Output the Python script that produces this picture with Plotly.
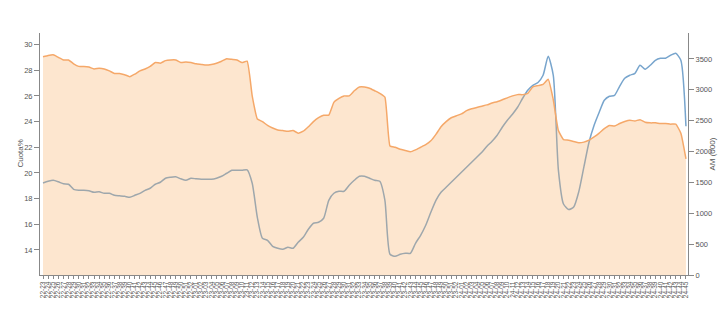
import plotly.graph_objects as go

labels = ("22-23 22-24 22-25 22-26 22-27 22-28 22-29 22-30 22-31 22-32 22-33 22-34 22-35 22-36 22-37 22-38 "
          "22-39 22-40 22-41 22-42 22-43 22-44 22-45 22-46 22-47 22-48 22-49 22-50 22-51 22-52 "
          "23-01 23-02 23-03 23-04 23-05 23-06 23-07 23-08 23-09 23-10 23-11 23-12 23-13 23-14 23-15 23-16 "
          "23-17 23-18 23-19 23-20 23-21 23-22 23-23 23-24 23-25 23-26 23-27 23-28 23-29 23-30 23-31 23-32 "
          "23-33 23-34 23-35 23-36 23-37 23-38 23-39 23-40 23-41 23-42 23-43 23-44 23-45 23-46 23-47 23-48 "
          "23-49 23-50 23-51 23-52 24-01 24-02 24-03 24-04 24-05 24-06 24-07 24-08 24-09 24-10 24-11 24-12 "
          "24-13 24-14 24-15 24-16 24-17 24-18 24-19 24-20 24-21 24-22 24-23 24-24 24-25 24-26 24-27 24-28 "
          "24-29 24-30 24-31 24-32 24-33 24-34 24-35 24-36 24-37 24-38 24-39 24-40 24-41 24-42 24-43 24-44 24-45").split()

cuota = [29.05, 29.15, 29.2, 29.0, 28.8, 28.8, 28.5, 28.3, 28.3, 28.25,
         28.1, 28.15, 28.1, 27.95, 27.75, 27.75, 27.65, 27.5, 27.7, 27.95,
         28.1, 28.3, 28.6, 28.55, 28.75, 28.8, 28.8, 28.6, 28.65, 28.6,
         28.5, 28.45, 28.4, 28.45, 28.55, 28.7, 28.9, 28.85, 28.8, 28.6,
         28.7, 26.0, 24.2, 24.0, 23.7, 23.5, 23.35, 23.3, 23.25, 23.3,
         23.1, 23.25, 23.6, 24.0, 24.3, 24.5, 24.5, 25.5, 25.8, 26.0,
         26.0, 26.4, 26.7, 26.7, 26.6, 26.4, 26.2, 25.9, 22.1, 22.0,
         21.85, 21.75, 21.65, 21.8, 22.0, 22.2, 22.5, 23.0, 23.6, 24.0,
         24.3, 24.45, 24.6, 24.85, 25.0, 25.1, 25.2, 25.3, 25.45, 25.55,
         25.7, 25.85, 26.0, 26.1, 26.1, 26.2, 26.7, 26.8, 26.9, 27.3,
         25.7, 23.3, 22.6, 22.55, 22.45, 22.35, 22.4, 22.55, 22.8, 23.1,
         23.45, 23.7, 23.65, 23.85, 24.0, 24.1, 24.05, 24.15, 23.95, 23.9,
         23.9, 23.85, 23.85, 23.8, 23.8, 23.1, 21.1]

am = [1490, 1518, 1534, 1510, 1477, 1470, 1388, 1372, 1372, 1364,
      1340, 1348, 1323, 1323, 1291, 1283, 1275, 1259, 1291, 1323,
      1372, 1405, 1470, 1502, 1567, 1583, 1591, 1558, 1534, 1567,
      1558, 1550, 1550, 1550, 1567, 1599, 1648, 1696, 1696, 1696,
      1704, 1486, 935, 595, 562, 465, 433, 416, 449, 433,
      530, 611, 741, 838, 854, 919, 1210, 1324, 1356, 1356,
      1453, 1534, 1599, 1599, 1567, 1534, 1518, 1210, 335, 303,
      335, 352, 352, 514, 643, 805, 1016, 1210, 1340, 1421,
      1502, 1583, 1664, 1745, 1826, 1907, 1988, 2085, 2166, 2263,
      2393, 2506, 2604, 2717, 2863, 2992, 3073, 3119, 3235, 3543,
      3235, 1700, 1150, 1060, 1100, 1350, 1750, 2150, 2425, 2636,
      2830, 2895, 2911, 3057, 3187, 3235, 3267, 3397, 3332, 3397,
      3478, 3511, 3511, 3559, 3591, 3478, 2409]

font = "Liberation Sans, Arial, sans-serif"
axis_col = "#888888"
text_col = "#555555"

fig = go.Figure()
fig.add_trace(go.Scatter(
    x=labels, y=am, mode="lines", yaxis="y",
    line=dict(color="rgb(120,165,205)", width=1.5, shape="spline", smoothing=0.6),
    hoverinfo="skip", showlegend=False))
fig.add_trace(go.Scatter(
    x=labels, y=cuota, mode="lines", yaxis="y2", fill="tozeroy",
    fillcolor="rgba(248,172,95,0.3)",
    line=dict(color="rgb(245,168,105)", width=1.5, shape="spline", smoothing=0.4),
    hoverinfo="skip", showlegend=False))

fig.update_layout(
    width=728, height=312,
    margin=dict(l=40, r=40, t=33, b=37),
    paper_bgcolor="white", plot_bgcolor="white",
    font=dict(family=font, size=8, color=text_col),
    xaxis=dict(type="category", range=[-0.59, 126.4], showgrid=False, zeroline=False,
               showline=True, linecolor=axis_col, linewidth=1, dtick=1,
               ticks="outside", ticklen=3, tickcolor=axis_col, tickangle=-90,
               tickfont=dict(size=6.5, color=text_col)),
    yaxis=dict(side="right", range=[0, 3920], showgrid=False, zeroline=False,
               showline=True, linecolor=axis_col, linewidth=1,
               ticks="outside", ticklen=5, tickcolor=axis_col, dtick=500,
               tickfont=dict(size=7.5, color=text_col)),
    yaxis2=dict(side="left", overlaying="y", range=[12.05, 30.9], showgrid=False,
                zeroline=False, showline=True, linecolor=axis_col, linewidth=1,
                ticks="outside", ticklen=5, tickcolor=axis_col, dtick=2, tick0=0,
                tickfont=dict(size=7.5, color=text_col)),
    annotations=[
        dict(text="Cuota%", xref="paper", yref="paper", x=-0.0315, y=0.5,
             xanchor="center", yanchor="middle", textangle=-90, showarrow=False,
             font=dict(size=8, color=text_col, family=font)),
        dict(text="AM (000)", xref="paper", yref="paper", x=1.0363, y=0.5,
             xanchor="center", yanchor="middle", textangle=-90, showarrow=False,
             font=dict(size=8, color=text_col, family=font)),
    ],
)
fig.write_html("out.html")
